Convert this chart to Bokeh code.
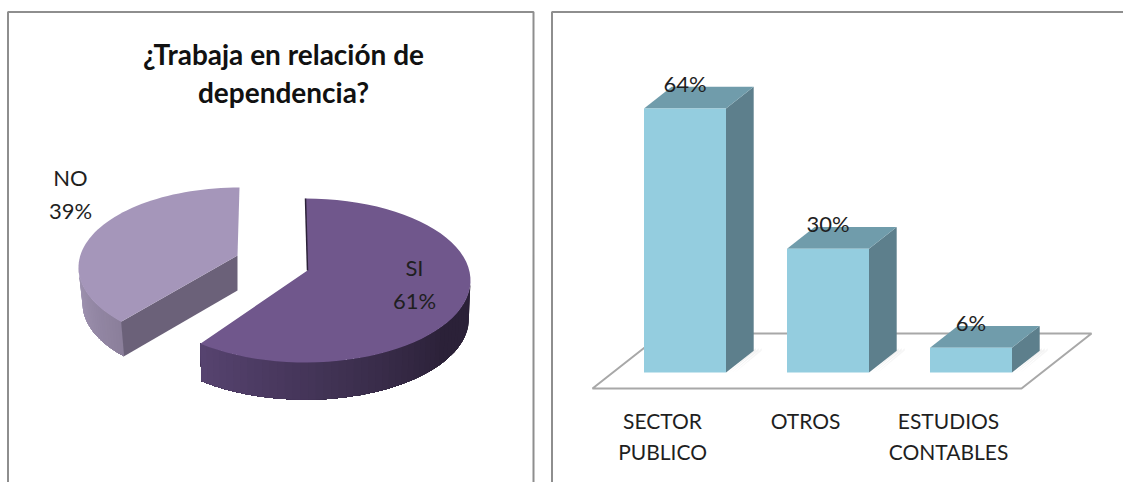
from math import sin, cos, radians
from bokeh.plotting import figure
from bokeh.layouts import row
from bokeh.embed import file_html
from bokeh.resources import INLINE
from bokeh.core.properties import value

# ---- data ----
pie_title = "¿Trabaja en relación de\ndependencia?"
pie_names = ["SI", "NO"]
pie_shares = [61, 39]
bar_categories = ["SECTOR\nPUBLICO", "OTROS", "ESTUDIOS\nCONTABLES"]
bar_values = [64, 30, 6]

FONT = value("Lato")
TXT = "#1f1f1f"
FRAME = "#8e8e8e"
PAGE_W, PAGE_H = 1123, 482
SPLIT = 543


def lerp_hex(a, b, f):
    ca = [int(a[i:i + 2], 16) for i in (1, 3, 5)]
    cb = [int(b[i:i + 2], 16) for i in (1, 3, 5)]
    return "#%02x%02x%02x" % tuple(round(x + (y - x) * f) for x, y in zip(ca, cb))


def base_fig(w, x_range, y_range):
    p = figure(width=w, height=PAGE_H, x_range=x_range, y_range=y_range,
               output_backend="svg", toolbar_location=None,
               x_axis_location=None, y_axis_location=None,
               background_fill_color="white", border_fill_color="white",
               min_border=0, outline_line_color=None)
    p.grid.visible = False
    return p


# ---- left: exploded 3D pie, in page-pixel style units ----
p1 = base_fig(SPLIT, (0, SPLIT), (PAGE_H, 0))
p1.line([7.5, 7.5, 533, 533], [PAGE_H, 11.5, 11.5, PAGE_H], line_color=FRAME, line_width=2)


def ell(t, c, wall=0.0, k=1.0):
    r = radians(t)
    return c[0] + c[2] * k * sin(r), c[1] - c[3] * k * cos(r) + wall


def arc(t0, t1, c, n=60):
    pts = [ell(t0 + (t1 - t0) * i / n, c) for i in range(n + 1)]
    return [a for a, _ in pts], [b for _, b in pts]


def wall_strips(t_from, t_to, c, depth, k, col_a, col_b, n, col_map=lambda f: f):
    """Gradient wall: each strip runs on to the far end, and the next paints over it,
    so that no seams show between strips."""
    xs, ys, cols = [], [], []
    for i in range(n):
        x, y = [], []
        m = n - i
        t0 = t_from + (t_to - t_from) * i / n
        tops = [ell(t0 + (t_to - t0) * j / m, c) for j in range(m + 1)]
        bots = [ell(t0 + (t_to - t0) * j / m, c, depth, k) for j in range(m, -1, -1)]
        xs.append([a for a, _ in tops + bots])
        ys.append([b for _, b in tops + bots])
        cols.append(lerp_hex(col_a, col_b, col_map(i / (n - 1))))
    return xs, ys, cols


# SI slice
si_c = (305, 280, 165, 82)
si_apex = (307, 270)
si_depth, si_k = 38, 0.99
si_end = 360 * pie_shares[0] / 100
xs, ys, cols = wall_strips(90, si_end, si_c, si_depth, si_k, "#2b2138", "#56436f", 48,
                           lambda f: min(1, max(0, (f - 0.25) / 0.75)))
p1.patches(xs, ys, fill_color=cols, line_color=None)
ax, ay = arc(0, si_end, si_c)
p1.patch([si_apex[0]] + ax, [si_apex[1]] + ay, fill_color="#70578c", line_color=None)
p1.line([ax[0], si_apex[0]], [ay[0], si_apex[1]], line_color="#2b2138", line_width=1.5)

# NO slice (perspective squeezes its visible sweep a little)
no_c = (239, 267, 161, 80)
no_apex = (237, 255)
no_depth, no_k = 36, 0.975
no_persp = 0.945
no_start = 360 - 360 * pie_shares[1] / 100 * no_persp
xs, ys, cols = wall_strips(270, no_start, no_c, no_depth, no_k, "#a094b2", "#8b7f9b", 24)
p1.patches(xs, ys, fill_color=cols, line_color=None)
corner = ell(no_start, no_c)
corner_b = ell(no_start, no_c, no_depth, no_k)
p1.patch([no_apex[0], corner[0], corner_b[0], no_apex[0]],
         [no_apex[1], corner[1], corner_b[1], no_apex[1] + 35],
         fill_color="#6b6179", line_color=None)
nx, ny = arc(no_start, 360, no_c)
p1.patch([no_apex[0]] + nx, [no_apex[1]] + ny, fill_color="#a596ba", line_color=None)

pie_labels = [f"{n}\n{s}%" for n, s in zip(pie_names, pie_shares)]
p1.text([414, 70], [283.5, 193.5], text=pie_labels, text_font=FONT, text_font_size="22px",
        text_color=TXT, text_align="center", text_baseline="middle", text_line_height=1.24)
p1.text([283], [72.5], text=[pie_title], text_font=FONT, text_font_size="28px",
        text_font_style="bold", text_color="#111111", text_align="center",
        text_baseline="middle", text_line_height=1.09)

# ---- right: 3D columns; x in category slots, y in percent ----
SLOT_PX, PCT_PX = 143.0, 4.125
X0_PX, Y0_PY = 684.5, 372.0


def X(px):
    return (px - X0_PX) / SLOT_PX


def Y(py):
    return (Y0_PY - py) / PCT_PX


p2 = base_fig(PAGE_W - SPLIT, (X(SPLIT), X(PAGE_W)), (Y(PAGE_H), Y(0)))
p2.line([X(551.5), X(551.5), X(PAGE_W)], [Y(PAGE_H), Y(11.5), Y(11.5)],
        line_color=FRAME, line_width=2)

# floor
p2.patch([X(592), X(1021), X(1091), X(662)], [Y(388), Y(388), Y(333), Y(333)],
         fill_color="white", line_color="#a8a8a8", line_width=2)

bw = 82 / SLOT_PX
dx, dy = 27.7 / SLOT_PX, 21.7 / PCT_PX
pos = list(range(len(bar_values)))

# soft floor shadow
for grow, alpha in [(8, 0.05), (5, 0.07), (2, 0.09)]:
    g = grow / SLOT_PX
    sx, sy = [], []
    for i in pos:
        l, r = i - bw / 2 - g, i + bw / 2 + g
        sx.append([l, r, r + dx, r + dx, r])
        sy.append([-0.2, -0.2, dy, dy + 0.6, -0.2])
    p2.patches(sx, sy, fill_color="#555555", fill_alpha=alpha, line_color=None)

side_x = [[i + bw / 2, i + bw / 2 + dx, i + bw / 2 + dx, i + bw / 2] for i in pos]
side_y = [[0, dy, v + dy, v] for v in bar_values]
top_x = [[i - bw / 2, i + bw / 2, i + bw / 2 + dx, i - bw / 2 + dx] for i in pos]
top_y = [[v, v, v + dy, v + dy] for v in bar_values]
p2.patches(side_x, side_y, fill_color="#5d7f8c", line_color=None)
p2.patches(top_x, top_y, fill_color="#709cab", line_color=None)
p2.vbar(x=pos, top=bar_values, bottom=0, width=bw, fill_color="#94cddf", line_color=None)

p2.text([i for i in pos], [v + 6.1 for v in bar_values], text=[f"{v}%" for v in bar_values],
        text_font=FONT, text_font_size="22px", text_color=TXT,
        text_align="center", text_baseline="middle")
p2.text([i - 0.157 for i in pos], [Y(407.5)] * 3, text=bar_categories,
        text_font=FONT, text_font_size="21px", text_color=TXT,
        text_align="center", text_baseline="top", text_line_height=1.25)

layout = row(p1, p2)
open("out.html", "w").write(file_html(layout, INLINE))
